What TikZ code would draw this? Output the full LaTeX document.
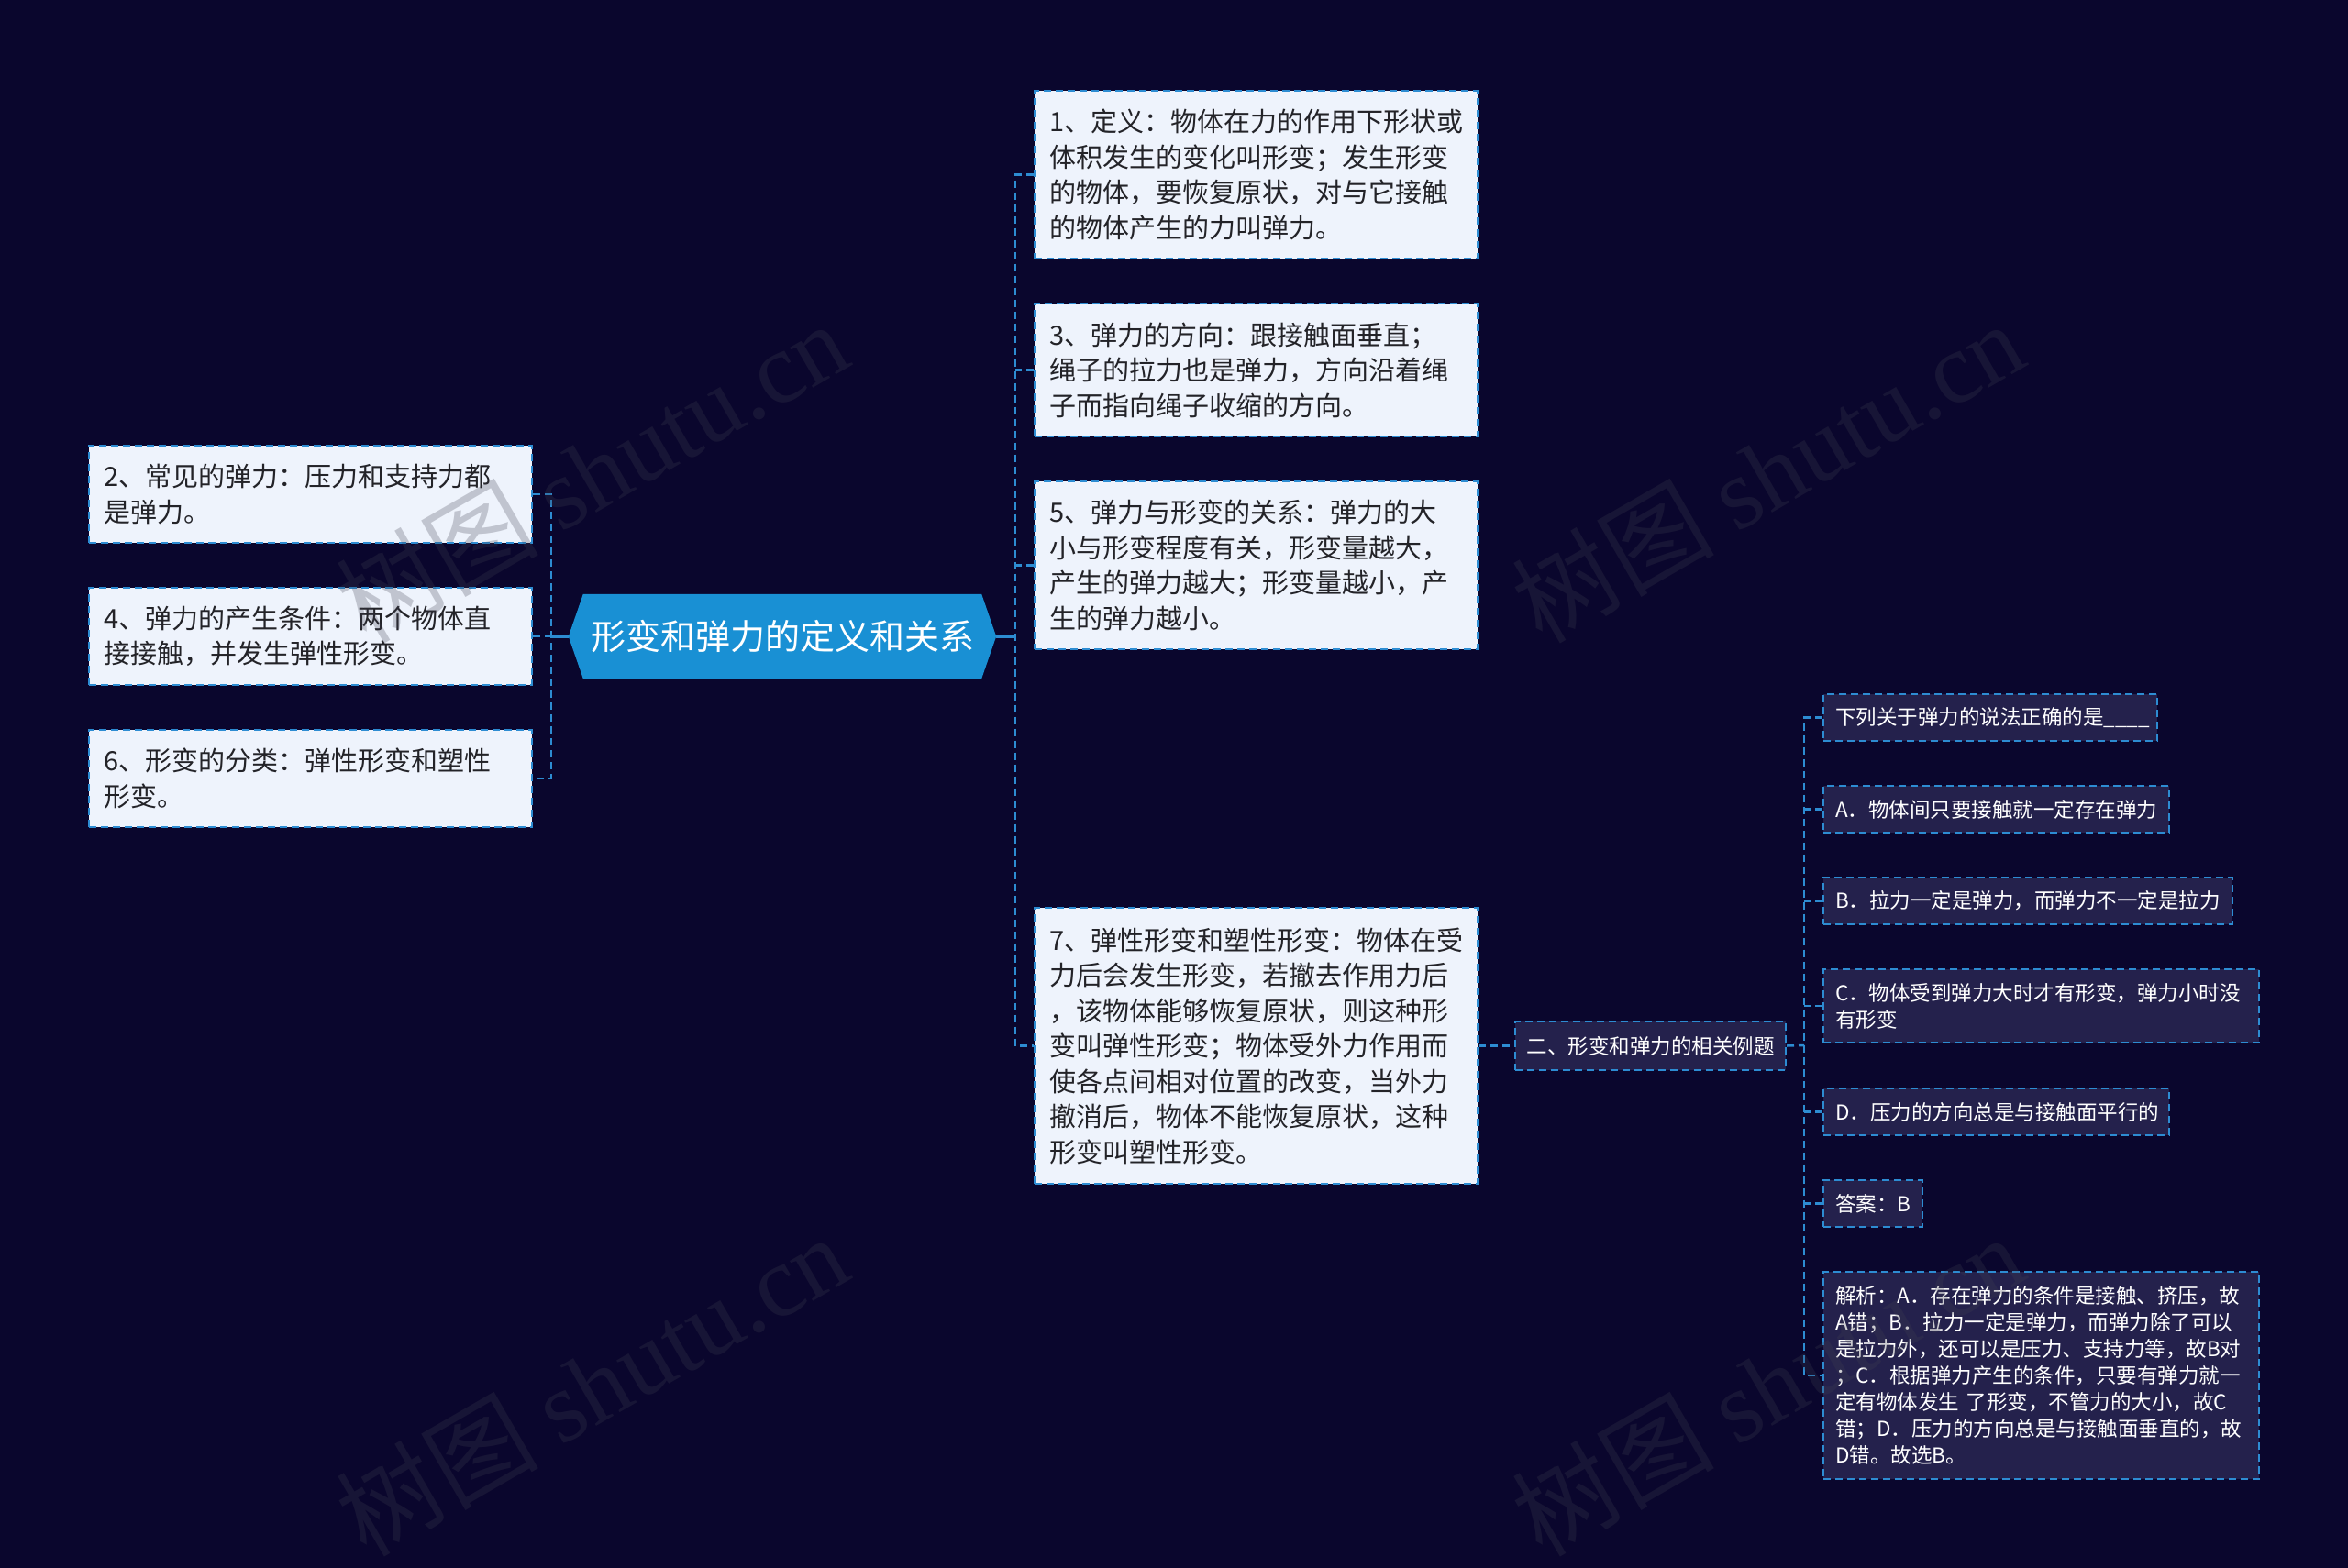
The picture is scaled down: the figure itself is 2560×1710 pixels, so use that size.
\documentclass[tikz,border=0pt]{standalone}
\usepackage{fontspec}
\setmainfont{Noto Sans CJK SC}
\newfontfamily\wmserif{Liberation Serif}
\definecolor{bgc}{RGB}{10,6,45}
\definecolor{lightfill}{RGB}{238,243,252}
\definecolor{darkfill}{RGB}{36,33,76}
\definecolor{linec}{RGB}{45,140,210}
\definecolor{txtdark}{RGB}{35,35,40}
\definecolor{hexc}{RGB}{25,144,212}
\definecolor{wmc}{RGB}{64,64,80}
\pgfdeclarelayer{back}
\pgfdeclarelayer{mid}
\pgfdeclarelayer{front}
\pgfsetlayers{back,mid,main,front}
\begin{document}
\begin{tikzpicture}[x=1pt,y=-1pt,
  conn/.style={draw=linec, line width=2.5pt, dash pattern=on 8pt off 5pt},
  solidconn/.style={draw=linec, line width=3pt},
  lbox/.style={anchor=north west, draw=linec, fill=lightfill, line width=2pt,
    dash pattern=on 8pt off 5pt, text=txtdark, inner xsep=16pt, inner ysep=0pt,
    text width=451pt, align=left, font=\fontsize{29}{38.5}\selectfont},
  dbox/.style={anchor=north west, draw=linec, fill=darkfill, line width=2pt,
    dash pattern=on 8pt off 5pt, text=white, inner xsep=13pt, inner ysep=0pt,
    align=left, font=\fontsize{22.5}{29}\selectfont, text width=#1},
  wmark/.style={rotate=30, text=wmc, text opacity=0.26, inner sep=0pt,
    font=\fontsize{110}{110}\selectfont}
]
\useasboundingbox (0,0) rectangle (2560,1710);
\begin{pgfonlayer}{back}
  \fill[bgc] (0,0) rectangle (2560,1710);
\end{pgfonlayer}

% root
\node (root) [minimum width=466pt, minimum height=92pt, inner sep=0pt, text=white,
  font=\fontsize{38}{38}\selectfont] at (853,694) {形变和弹力的定义和关系};

% left boxes
\node (b2) [lbox, minimum height=106pt] at (96,485) {2、常见的弹力：压力和支持力都\\是弹力。};
\node (b4) [lbox, minimum height=106pt] at (96,640) {4、弹力的产生条件：两个物体直\\接接触，并发生弹性形变。};
\node (b6) [lbox, minimum height=106pt] at (96,795) {6、形变的分类：弹性形变和塑性\\形变。};

% right boxes
\node (b1) [lbox, minimum height=183pt] at (1127,98) {1、定义：物体在力的作用下形状或\\体积发生的变化叫形变；发生形变\\的物体，要恢复原状，对与它接触\\的物体产生的力叫弹力。};
\node (b3) [lbox, minimum height=145pt] at (1127,330) {3、弹力的方向：跟接触面垂直；\\绳子的拉力也是弹力，方向沿着绳\\子而指向绳子收缩的方向。};
\node (b5) [lbox, minimum height=183pt] at (1127,524) {5、弹力与形变的关系：弹力的大\\小与形变程度有关，形变量越大，\\产生的弹力越大；形变量越小，产\\生的弹力越小。};
\node (b7) [lbox, minimum height=301pt] at (1127,989) {7、弹性形变和塑性形变：物体在受\\力后会发生形变，若撤去作用力后\\，该物体能够恢复原状，则这种形\\变叫弹性形变；物体受外力作用而\\使各点间相对位置的改变，当外力\\撤消后，物体不能恢复原状，这种\\形变叫塑性形变。};

% examples branch
\node (ex) [dbox=270pt, inner xsep=12.5pt, minimum height=53pt] at (1651,1113) {二、形变和弹力的相关例题};

\node (q)  [dbox=338pt, minimum height=51pt] at (1987,756) {下列关于弹力的说法正确的是\textunderscore\textunderscore\textunderscore\textunderscore};
\node (oa) [dbox=351pt, minimum height=51pt] at (1987,856) {A．物体间只要接触就一定存在弹力};
\node (ob) [dbox=420pt, minimum height=51pt] at (1987,956) {B．拉力一定是弹力，而弹力不一定是拉力};
\node (oc) [dbox=449pt, minimum height=80pt] at (1987,1056) {C．物体受到弹力大时才有形变，弹力小时没\\有形变};
\node (od) [dbox=351pt, minimum height=51pt] at (1987,1186) {D．压力的方向总是与接触面平行的};
\node (ans) [dbox=82pt, minimum height=51pt] at (1987,1286) {答案：B};
\node (jx) [dbox=449pt, minimum height=226pt] at (1987,1386) {解析：A．存在弹力的条件是接触、挤压，故\\A错；B．拉力一定是弹力，而弹力除了可以\\是拉力外，还可以是压力、支持力等，故B对\\；C．根据弹力产生的条件，只要有弹力就一\\定有物体发生 了形变，不管力的大小，故C\\错；D．压力的方向总是与接触面垂直的，故\\D错。故选B。};

\coordinate (lt) at (601,694);
\coordinate (rt) at (1107,694);
\coordinate (st) at (1967,1140);

\begin{pgfonlayer}{mid}
  % left trunk
  \draw[conn] (b2.east) -- (b2.east -| lt) -- (b6.east -| lt) -- (b6.east);
  \draw[conn] (b4.east) -- (b4.east -| lt);
  \draw[solidconn] (root.west) -- (root.west -| lt);
  % right trunk
  \draw[conn] (b1.west) -- (b1.west -| rt) -- (b7.west -| rt) -- (b7.west);
  \draw[conn] (b3.west) -- (b3.west -| rt);
  \draw[conn] (b5.west) -- (b5.west -| rt);
  \draw[solidconn] (root.east) -- (root.east -| rt);
  % examples
  \draw[conn] (b7.east) -- (ex.west);
  \draw[conn] (ex.east) -- (st);
  \draw[conn] (q.west) -- (q.west -| st) -- (jx.west -| st) -- (jx.west);
  \draw[conn] (oa.west) -- (oa.west -| st);
  \draw[conn] (ob.west) -- (ob.west -| st);
  \draw[conn] (oc.west) -- (oc.west -| st);
  \draw[conn] (od.west) -- (od.west -| st);
  \draw[conn] (ans.west) -- (ans.west -| st);
  % root hexagon
  \fill[hexc] (root.west) -- ([xshift=16pt]root.north west) -- ([xshift=-16pt]root.north east)
    -- (root.east) -- ([xshift=-16pt]root.south east) -- ([xshift=16pt]root.south west) -- cycle;
\end{pgfonlayer}

\begin{pgfonlayer}{front}
  \node (wm1) [wmark] at (645,514) {树图 {\wmserif shutu.cn}};
  \node (wm2) [wmark] at (1927,514) {树图 {\wmserif shutu.cn}};
  \node (wm3) [wmark] at (645,1510) {树图 {\wmserif shutu.cn}};
  \node (wm4) [wmark] at (1927,1510) {树图 {\wmserif shutu.cn}};
\end{pgfonlayer}
\end{tikzpicture}
\end{document}
